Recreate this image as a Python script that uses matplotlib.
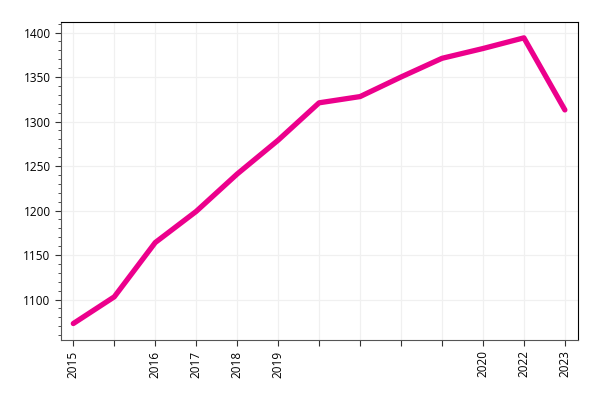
import matplotlib
matplotlib.use("Agg")
import matplotlib.pyplot as plt
from matplotlib.ticker import MultipleLocator

# category labels (blank where the source leaves a tick unlabeled)
labels = ["2015", "", "2016", "2017", "2018", "2019", "", "", "", "", "2020", "2022", "2023"]
values = [1073, 1103, 1164, 1199, 1241, 1279, 1321, 1328, 1350, 1371, 1382, 1394, 1313]

plt.rcParams['font.family'] = ['Open Sans', 'DejaVu Sans']

fig = plt.figure(figsize=(6, 4), dpi=100)
ax = fig.add_axes([0.1017, 0.15, 0.8616, 0.795])

x = list(range(len(values)))
ax.plot(x, values, color='#EC008C', linewidth=3.8, solid_capstyle='round', solid_joinstyle='round', zorder=3)

ax.set_xlim(-0.3, 12.32)
ax.set_ylim(1054.5, 1411.8)
ax.set_xticks(x)
ax.set_xticklabels(labels, rotation=90, fontsize=8.5)
ax.yaxis.set_major_locator(MultipleLocator(50))
ax.yaxis.set_minor_locator(MultipleLocator(10))
ax.tick_params(axis='y', labelsize=8.5, length=4, color='#333333')
ax.tick_params(axis='y', which='minor', length=2.5, color='#333333')
ax.tick_params(axis='x', length=4, color='#333333')

ax.grid(True, color='#f0f0f0', linewidth=0.9)
ax.set_axisbelow(True)

for s in ['left', 'bottom']:
    ax.spines[s].set_color('#555555')
for s in ['top', 'right']:
    ax.spines[s].set_color('black')

fig.savefig("out.png", dpi=100)
